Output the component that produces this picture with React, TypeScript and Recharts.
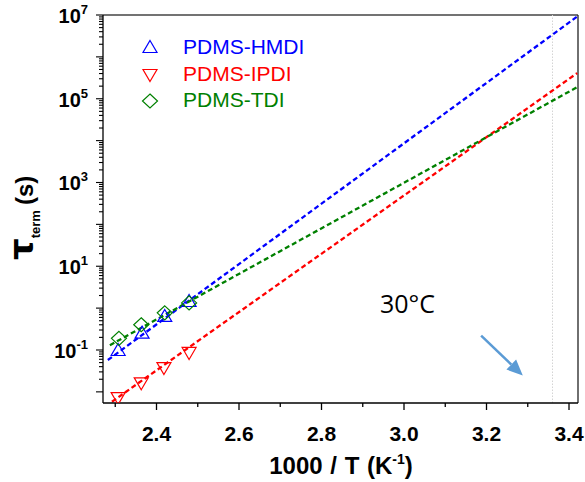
import React from 'react';
import { ComposedChart, XAxis, YAxis, Scatter, Line, ReferenceLine, Legend } from 'recharts';

// measured points (1000/T, tau_term in s)
const hmdiX = [2.307, 2.365, 2.42, 2.479];
const hmdiY = [0.1, 0.26, 0.65, 1.48];
const ipdiX = [2.307, 2.363, 2.418, 2.479];
const ipdiY = [0.0071, 0.016, 0.037, 0.085];
const tdiX = [2.309, 2.363, 2.42, 2.479];
const tdiY = [0.19, 0.4, 0.77, 1.33];

// fitted (dashed) lines, endpoints
const hmdiFitX = [2.282, 3.42];
const hmdiFitY = [0.0575, 9.2e6];
const ipdiFitX = [2.292, 3.42];
const ipdiFitY = [0.0058, 4.1e5];
const tdiFitX = [2.287, 3.42];
const tdiFitY = [0.13, 1.9e5];

const seriesNames = ['PDMS-HMDI', 'PDMS-IPDI', 'PDMS-TDI'];
const seriesColors = ['#0000ff', '#ff0000', '#008000'];

const xTicks = [2.3, 2.4, 2.5, 2.6, 2.7, 2.8, 2.9, 3.0, 3.1, 3.2, 3.3, 3.4];
const xLabelled = [2.4, 2.6, 2.8, 3.0, 3.2, 3.4];
const decades = [-2, -1, 0, 1, 2, 3, 4, 5, 6, 7];
const labelledDecades = [-1, 1, 3, 5, 7];
const minorMultipliers = [2, 3, 4, 5, 6, 7, 8, 9];

const X_MIN = 2.2703;
const X_MAX = 3.4218;
const Y_MIN = 0.00542;
const Y_MAX = 1e7;
const annotX = 3.36;
const arrowFrom = { x: 3.187, y: 0.22 };
const arrowTo = { x: 3.288, y: 0.0245 };

const yTicks: number[] = [];
decades.forEach((d) => {
  yTicks.push(Math.pow(10, d));
  if (d < 7) minorMultipliers.forEach((m) => {
    const v = m * Math.pow(10, d);
    if (v >= Y_MIN) yTicks.push(v);
  });
});
const yTicksFiltered = yTicks.filter((v) => v >= Y_MIN && v <= Y_MAX);

const zip = (xs: number[], ys: number[]) => xs.map((x, i) => ({ x, y: ys[i] }));

const AXIS_FONT = '"Liberation Sans", Arial, sans-serif';

const XTick = (props: any) => {
  const { x, y, payload } = props;
  const v = Math.round(payload.value * 10) / 10;
  const major = xLabelled.some((t) => Math.abs(t - v) < 1e-6);
  return (
    <g>
      <line x1={x} x2={x} y1={y} y2={y + (major ? 7 : 4)} stroke="#000" strokeWidth={1.3} />
      {major && (
        <text x={x} y={y + 38} textAnchor="middle" fontFamily={AXIS_FONT} fontWeight="bold" fontSize={21} fill="#000">
          {v.toFixed(1)}
        </text>
      )}
    </g>
  );
};

const YTick = (props: any) => {
  const { x, y, payload } = props;
  const lg = Math.log10(payload.value);
  const e = Math.round(lg);
  const isDecade = Math.abs(lg - e) < 1e-6;
  const labelled = isDecade && labelledDecades.includes(e);
  return (
    <g>
      <line x1={x} x2={x - (isDecade ? 7 : 4)} y1={y} y2={y} stroke="#000" strokeWidth={1.1} />
      {labelled && (
        <text x={x - 15} y={y + 8} textAnchor="end" fontFamily={AXIS_FONT} fontWeight="bold" fontSize={20} fill="#000">
          10
          <tspan dy={-9} fontSize={13}>{e}</tspan>
        </text>
      )}
    </g>
  );
};

const TriUp = (props: any) => {
  const { cx, cy, color } = props;
  return <path d={`M${cx},${cy - 6.5} L${cx + 7},${cy + 5.5} L${cx - 7},${cy + 5.5} Z`} fill="none" stroke={color} strokeWidth={1.2} />;
};
const TriDown = (props: any) => {
  const { cx, cy, color } = props;
  return <path d={`M${cx},${cy + 6.5} L${cx + 7},${cy - 5.5} L${cx - 7},${cy - 5.5} Z`} fill="none" stroke={color} strokeWidth={1.2} />;
};
const Diamond = (props: any) => {
  const { cx, cy, color } = props;
  return <path d={`M${cx},${cy - 7} L${cx + 7.5},${cy} L${cx},${cy + 7} L${cx - 7.5},${cy} Z`} fill="none" stroke={color} strokeWidth={1.2} />;
};

const shapes = [TriUp, TriDown, Diamond];

const LegendOverlay = () => (
  <svg width={585} height={482} style={{ position: 'absolute', left: 0, top: 0, pointerEvents: 'none' }}>
    {seriesNames.map((n, i) => {
      const S = shapes[i];
      const rowY = [47, 75, 101][i];
      return (
        <g key={n}>
          <S cx={150} cy={rowY} color={seriesColors[i]} />
          <text x={183} y={[54, 81, 107][i]} fontFamily={AXIS_FONT} fontSize={21} fill={seriesColors[i]}>
            {n}
          </text>
        </g>
      );
    })}
    <text x={380} y={313} fontFamily='"Open Sans", sans-serif' fontSize={25} fill="#000">30°C</text>
    <text transform="translate(33,260) rotate(-90)" fontFamily={AXIS_FONT} fontWeight="bold" fill="#000">
      <tspan fontSize={34} fontFamily='"DejaVu Sans", sans-serif'>τ</tspan>
      <tspan fontSize={13} dy={7}>term</tspan>
      <tspan fontSize={24} dy={-7} dx={5}>(s)</tspan>
    </text>
    <text x={341} y={474} textAnchor="middle" fontFamily={AXIS_FONT} fontWeight="bold" fontSize={24} wordSpacing={1} fill="#000">
      1000 / T (K<tspan dy={-10} fontSize={14}>-1</tspan><tspan dy={10}>)</tspan>
    </text>
  </svg>
);

const Arrow = (props: any) => {
  const { x1, y1, x2, y2 } = props;
  if (x1 == null) return null;
  const dx = x2 - x1, dy = y2 - y1;
  const L = Math.sqrt(dx * dx + dy * dy);
  const ux = dx / L, uy = dy / L;
  const hl = 16, hw = 7;
  const bx = x2 - ux * hl, by = y2 - uy * hl;
  return (
    <g>
      <line x1={x1} y1={y1} x2={bx} y2={by} stroke="#5b9bd5" strokeWidth={2.5} />
      <path d={`M${x2},${y2} L${bx - uy * hw},${by + ux * hw} L${bx + uy * hw},${by - ux * hw} Z`} fill="#5b9bd5" />
    </g>
  );
};

export default function App() {
  const data = [zip(hmdiX, hmdiY), zip(ipdiX, ipdiY), zip(tdiX, tdiY)];
  const fits = [zip(hmdiFitX, hmdiFitY), zip(ipdiFitX, ipdiFitY), zip(tdiFitX, tdiFitY)];
  return (
    <div style={{ position: 'absolute', left: 0, top: 0, width: 585, height: 482, background: '#fff' }}>
      <ComposedChart width={585} height={482} margin={{ top: 15, right: 7, left: 0, bottom: 0 }}>
        <XAxis
          type="number"
          dataKey="x"
          domain={[X_MIN, X_MAX]}
          ticks={xTicks}
          interval={0}
          allowDataOverflow
          height={79}
          tickSize={0}
          tickMargin={0}
          tickLine={false}
          tick={<XTick />}
          axisLine={{ stroke: '#000', strokeWidth: 1.3 }}
        />
        <YAxis
          type="number"
          dataKey="y"
          scale="log"
          domain={[Y_MIN, Y_MAX]}
          ticks={yTicksFiltered}
          interval={0}
          allowDataOverflow
          width={103}
          tickSize={0}
          tickMargin={0}
          tickLine={false}
          tick={<YTick />}
          axisLine={{ stroke: '#000', strokeWidth: 1.3 }}
        />
        <ReferenceLine y={Y_MAX} stroke="#444" strokeWidth={1.3} />
        <ReferenceLine x={X_MAX} stroke="#222" strokeWidth={1.3} />
        <ReferenceLine x={annotX} stroke="#d4d4d4" strokeWidth={1} strokeDasharray="1.5 1.5" />
        <ReferenceLine
          segment={[arrowFrom, arrowTo]}
          shape={(p: any) => <Arrow {...p} />}
          ifOverflow="visible"
        />
        {fits.map((f, i) => (
          <Line
            key={'fit' + i}
            data={f}
            dataKey="y"
            type="linear"
            stroke={seriesColors[i]}
            strokeWidth={2.3}
            strokeDasharray="5 3"
            dot={false}
            activeDot={false}
            isAnimationActive={false}
          />
        ))}
        {data.map((d, i) => {
          const S = shapes[i];
          return (
            <Scatter
              key={'pts' + i}
              data={d}
              dataKey="y"
              shape={(p: any) => <S cx={p.cx} cy={p.cy} color={seriesColors[i]} />}
              isAnimationActive={false}
            />
          );
        })}
        <Legend content={() => null} />
      </ComposedChart>
      <LegendOverlay />
    </div>
  );
}
